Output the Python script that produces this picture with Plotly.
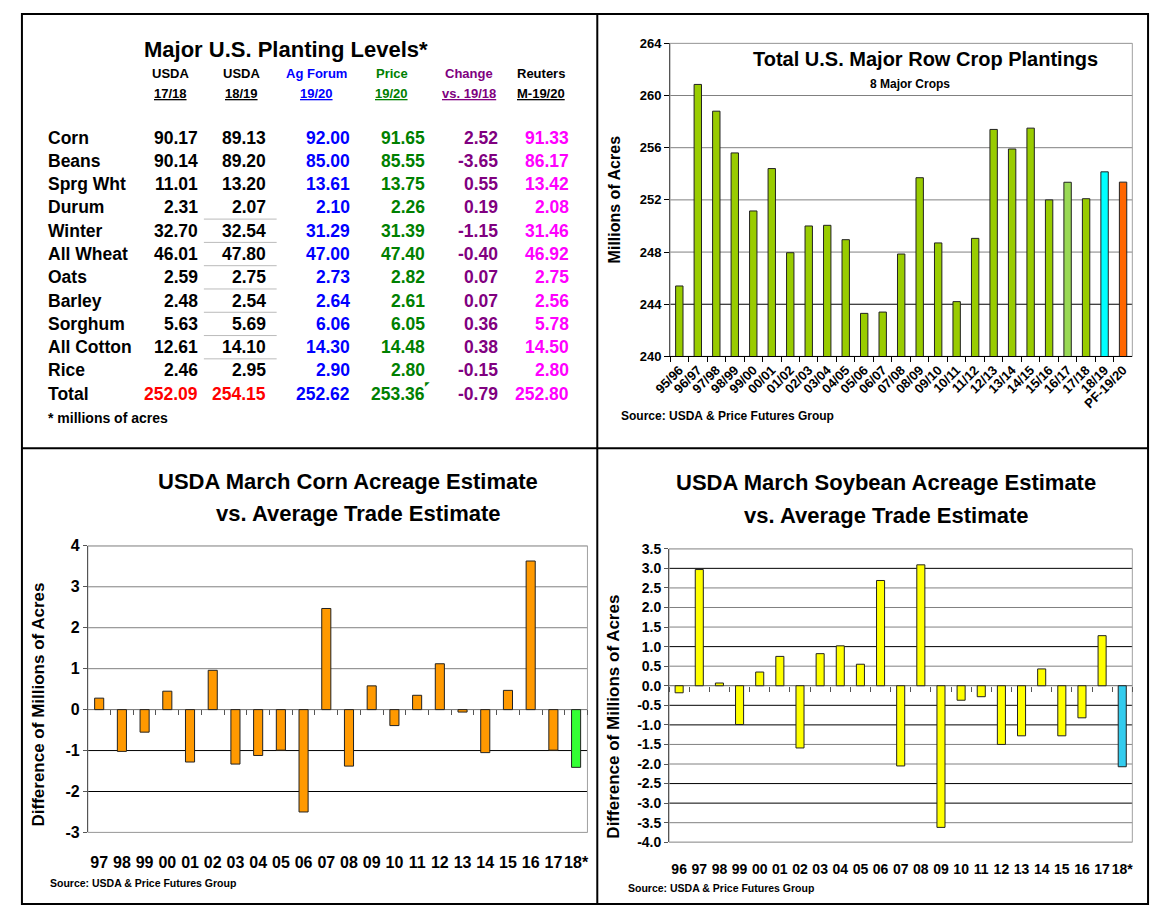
import plotly.graph_objects as go

W, H = 1152, 918
FONT = "Liberation Sans, Arial, sans-serif"


def px(x):
    return x / W


def py(y):
    return 1 - y / H


# ---- table: Major U.S. Planting Levels (millions of acres)
crops = ["Corn", "Beans", "Sprg Wht", "Durum", "Winter", "All Wheat", "Oats",
         "Barley", "Sorghum", "All Cotton", "Rice", "Total"]
usda_1718 = [90.17, 90.14, 11.01, 2.31, 32.70, 46.01, 2.59, 2.48, 5.63, 12.61, 2.46, 252.09]
usda_1819 = [89.13, 89.20, 13.20, 2.07, 32.54, 47.80, 2.75, 2.54, 5.69, 14.10, 2.95, 254.15]
ag_forum = [92.00, 85.00, 13.61, 2.10, 31.29, 47.00, 2.73, 2.64, 6.06, 14.30, 2.90, 252.62]
price_fg = [91.65, 85.55, 13.75, 2.26, 31.39, 47.40, 2.82, 2.61, 6.05, 14.48, 2.80, 253.36]
change = [2.52, -3.65, 0.55, 0.19, -1.15, -0.40, 0.07, 0.07, 0.36, 0.38, -0.15, -0.79]
reuters = [91.33, 86.17, 13.42, 2.08, 31.46, 46.92, 2.75, 2.56, 5.78, 14.50, 2.80, 252.80]
head_top = ["USDA", "USDA", "Ag Forum", "Price", "Change", "Reuters"]
head_bot = ["17/18", "18/19", "19/20", "19/20", "vs. 19/18", "M-19/20"]

# ---- total row crop plantings
seasons = ["95/96", "96/97", "97/98", "98/99", "99/00", "00/01", "01/02", "02/03",
           "03/04", "04/05", "05/06", "06/07", "07/08", "08/09", "09/10", "10/11",
           "11/12", "12/13", "13/14", "14/15", "15/16", "16/17", "17/18", "18/19", "PF-19/20"]
plantings = [245.4, 260.85, 258.8, 255.6, 251.15, 254.4, 247.95, 250.0, 250.05, 248.95,
             243.3, 243.4, 247.85, 253.7, 248.7, 244.2, 249.05, 257.4, 255.9, 257.5,
             252.0, 253.35, 252.09, 254.15, 253.36]

# ---- March acreage vs average trade estimate
corn_years = ["97", "98", "99", "00", "01", "02", "03", "04", "05", "06", "07", "08",
              "09", "10", "11", "12", "13", "14", "15", "16", "17", "18*"]
corn_diff = [0.28, -1.02, -0.55, 0.45, -1.28, 0.96, -1.33, -1.12, -0.99, -2.50, 2.47, -1.38,
             0.58, -0.39, 0.35, 1.12, -0.06, -1.05, 0.47, 3.63, -0.99, -1.41]
soy_years = ["96", "97", "98", "99", "00", "01", "02", "03", "04", "05", "06", "07", "08",
             "09", "10", "11", "12", "13", "14", "15", "16", "17", "18*"]
soy_diff = [-0.18, 2.97, 0.07, -0.99, 0.35, 0.75, -1.59, 0.82, 1.02, 0.55, 2.69, -2.05, 3.09,
            -3.62, -0.37, -0.28, -1.50, -1.28, 0.43, -1.28, -0.82, 1.28, -2.07]

plant_colors = ["#99CC00"] * len(seasons)
plant_colors[seasons.index("16/17")] = "#99D955"
plant_colors[seasons.index("18/19")] = "#00FFFF"
plant_colors[seasons.index("PF-19/20")] = "#FF6600"
corn_colors = ["#FF9900"] * (len(corn_years) - 1) + ["#33FF33"]
soy_colors = ["#FFFF00"] * (len(soy_years) - 1) + ["#33CCEE"]

plant_ticks = list(range(240, 265, 4))
corn_ticks = list(range(-3, 5))
soy_ticks = [v / 2 for v in range(-8, 8)]
# gridlines that come out black in the original, the rest are grey
plant_dark = [244]
corn_dark = [-1, -2]
soy_dark = [3.0, 1.0, -0.5, -1.0, -2.5, -3.0]

fig = go.Figure()

fig.add_trace(go.Bar(x=seasons, y=plantings, width=0.4, marker_color=plant_colors,
                     marker_line=dict(color="#222222", width=1), xaxis="x", yaxis="y"))
fig.add_trace(go.Bar(x=corn_years, y=corn_diff, width=0.4, marker_color=corn_colors,
                     marker_line=dict(color="#222222", width=1), xaxis="x2", yaxis="y2"))
fig.add_trace(go.Bar(x=soy_years, y=soy_diff, width=0.4, marker_color=soy_colors,
                     marker_line=dict(color="#222222", width=1), xaxis="x3", yaxis="y3"))
# helper traces so the zero-line tick axes get drawn
fig.add_trace(go.Scatter(x=corn_years, y=corn_diff, mode="none", hoverinfo="skip",
                         xaxis="x4", yaxis="y2"))
fig.add_trace(go.Scatter(x=soy_years, y=soy_diff, mode="none", hoverinfo="skip",
                         xaxis="x5", yaxis="y3"))

bold = dict(family=FONT, color="black", weight="bold")

ann = []


def text(x, y, s, size, color="black", xanchor="center", angle=0):
    ann.append(dict(x=px(x), y=py(y), xref="paper", yref="paper", text=s, showarrow=False,
                    xanchor=xanchor, yanchor="middle", textangle=angle,
                    font=dict(family=FONT, size=size, color=color, weight="bold")))


# table
text(272, 42, "Major U.S. Planting Levels*", 22)
col_colors = ["black", "black", "#0000FF", "#008000", "#800080", "#FF00FF"]
head_colors = ["black", "black", "#0000FF", "#008000", "#800080", "black"]
head_x = [155, 227, 304, 380, 459, 532]
right_x = [185, 254, 340, 416, 490, 562]
for j in range(6):
    text(head_x[j], 67, head_top[j], 13, head_colors[j])
    text(head_x[j], 87, "<u>" + head_bot[j] + "</u>", 13, head_colors[j])
columns = [usda_1718, usda_1819, ag_forum, price_fg, change, reuters]
for i, crop in enumerate(crops):
    yy = 132 + i * 23.73
    text(28, yy, crop, 17.5, xanchor="left")
    for j, col in enumerate(columns):
        c = col_colors[j]
        if crop == "Total" and j < 2:
            c = "#FF0000"
        text(right_x[j], yy, f"{col[i]:.2f}", 17.5, c, xanchor="right")
text(28, 418, "* millions of acres", 14, xanchor="left")
ann.append(dict(x=px(416), y=py(383), xref="paper", yref="paper", text="◤", showarrow=False,
                font=dict(size=6, color="#008000")))

# top right chart
text(923, 52, "Total U.S. Major Row Crop Plantings", 20)
text(907, 77, "8 Major Crops", 12)
text(606, 195, "Millions of Acres", 16, angle=-90)
text(611, 416, "Source: USDA &amp; Price Futures Group", 12, xanchor="left")

# corn chart
text(336, 482, "USDA March Corn Acreage Estimate", 22)
text(346, 515, "vs. Average Trade Estimate", 22)
text(21, 710, "Difference of Millions of Acres", 17, angle=-90)
text(31, 892, "Source: USDA &amp; Price Futures Group", 10.5, xanchor="left")

# soybean chart
text(883, 483, "USDA March Soybean Acreage Estimate", 22)
text(883, 517, "vs. Average Trade Estimate", 22)
text(606, 722, "Difference of Millions of Acres", 17, angle=-90)
text(618, 897, "Source: USDA &amp; Price Futures Group", 10.5, xanchor="left")

shapes = []
# thin cell borders in the 18/19 column
for i in range(3, 10):
    yy = 132 + i * 23.73 + 11.9
    shapes.append(dict(type="line", xref="paper", yref="paper", x0=px(189), x1=px(263),
                       y0=py(yy), y1=py(yy), line=dict(color="#BBBBBB", width=1)))
# gridlines (grey, a few black) under the bars
for ax, ticks, dark in [("", plant_ticks, plant_dark), ("2", corn_ticks, corn_dark),
                        ("3", soy_ticks, soy_dark)]:
    for v in ticks:
        shapes.append(dict(type="line", xref=f"x{ax} domain", yref=f"y{ax}",
                           x0=0, x1=1, y0=v, y1=v, layer="below",
                           line=dict(color="black" if v in dark else "#808080", width=1)))
# plot area borders
for ax in ["", "2", "3"]:
    shapes.append(dict(type="rect", xref=f"x{ax} domain", yref=f"y{ax} domain",
                       x0=0, x1=1, y0=0, y1=1, layer="below",
                       line=dict(color="#A0A0A0", width=1)))
# panel frames
shapes.append(dict(type="rect", xref="paper", yref="paper", x0=px(4), x1=px(1149),
                   y0=py(913), y1=py(6), line=dict(color="black", width=2)))
shapes.append(dict(type="line", xref="paper", yref="paper", x0=px(589), x1=px(589),
                   y0=py(913), y1=py(6), line=dict(color="black", width=2)))
shapes.append(dict(type="line", xref="paper", yref="paper", x0=px(4), x1=px(1149),
                   y0=py(448.5), y1=py(448.5), line=dict(color="black", width=2)))

axis_grey = "#555555"

fig.update_layout(
    width=W, height=H,
    margin=dict(l=0, r=0, t=0, b=0),
    paper_bgcolor="white", plot_bgcolor="white",
    font=dict(family=FONT, color="black"),
    showlegend=False,
    annotations=ann, shapes=shapes,
    xaxis=dict(domain=[px(663), px(1133)], anchor="y", type="category",
               categoryarray=seasons, range=[-0.5, len(seasons) - 0.5],
               tickangle=-45, tickfont=dict(bold, size=13), ticks="outside",
               tickson="boundaries", ticklen=5, tickcolor="black",
               showline=True, linecolor="black", linewidth=1, showgrid=False),
    yaxis=dict(domain=[py(355), py(36)], anchor="x", range=[240, 264], tickvals=plant_ticks,
               tickfont=dict(bold, size=13), ticks="outside", ticklen=5, tickcolor="black",
               showline=True, linecolor=axis_grey, linewidth=1,
               showgrid=False, zeroline=False),
    xaxis2=dict(domain=[px(71), px(579)], anchor="y2", type="category",
                categoryarray=corn_years, range=[-0.5, len(corn_years) - 0.5],
                tickangle=0, tickfont=dict(bold, size=16), ticks="", ticklabelstandoff=19,
                showline=False, showgrid=False),
    yaxis2=dict(domain=[py(840), py(548)], anchor="x2", range=[-3, 4],
                tickvals=corn_ticks, ticktext=[str(v) for v in corn_ticks],
                tickfont=dict(bold, size=16), ticks="outside", ticklen=4, tickcolor=axis_grey,
                showline=True, linecolor=axis_grey, showgrid=False,
                zeroline=True, zerolinecolor="#808080", zerolinewidth=1),
    xaxis4=dict(overlaying="x2", anchor="free", position=py(714.6), type="category",
                categoryarray=corn_years, range=[-0.5, len(corn_years) - 0.5],
                ticks="outside", tickson="boundaries", ticklen=5, tickcolor=axis_grey,
                showticklabels=False, showgrid=False, showline=False),
    xaxis3=dict(domain=[px(662), px(1133)], anchor="y3", type="category",
                categoryarray=soy_years, range=[-0.5, len(soy_years) - 0.5],
                tickangle=0, tickfont=dict(bold, size=14), ticks="", ticklabelstandoff=17,
                showline=False, showgrid=False),
    yaxis3=dict(domain=[py(850), py(551)], anchor="x3", range=[-4, 3.5],
                tickvals=soy_ticks, ticktext=[f"{v:.1f}" for v in soy_ticks],
                tickfont=dict(bold, size=14), ticks="outside", ticklen=4,
                tickcolor=axis_grey, showline=True, linecolor=axis_grey, showgrid=False,
                zeroline=True, zerolinecolor="#808080", zerolinewidth=1),
    xaxis5=dict(overlaying="x3", anchor="free", position=py(690.4), type="category",
                categoryarray=soy_years, range=[-0.5, len(soy_years) - 0.5],
                ticks="outside", tickson="boundaries", ticklen=5, tickcolor=axis_grey,
                showticklabels=False, showgrid=False, showline=False),
)

# the page body margin would push the 1152x918 figure off the window
fig.write_html("out.html", config={"displayModeBar": False},
               post_script="document.body.style.margin='0';")
